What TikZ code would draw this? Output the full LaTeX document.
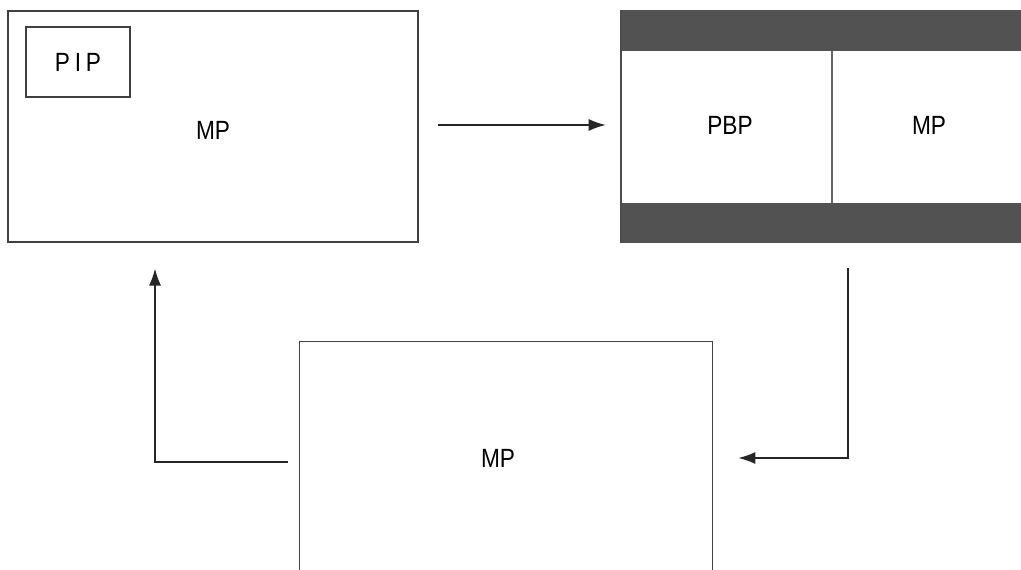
\documentclass[tikz,border=0pt]{standalone}
\usepackage{fontspec}
\setmainfont[FakeStretch=0.86]{Liberation Sans}
\usetikzlibrary{calc,arrows.meta,positioning}

\begin{document}
\begin{tikzpicture}[
    x=0.02cm, y=-0.02cm,
    font=\fontsize{15}{17}\selectfont,
    >={Latex[length=0.34cm,width=0.24cm]},
    scr/.style={draw=black!75, line width=0.6pt, inner sep=0pt},
    bar/.style={fill=black!68, draw=none},
    link/.style={->, line width=0.8pt, black!85}
  ]
  \useasboundingbox (0,0) rectangle (1021,570);

  % Main picture with PIP window (top left)
  \node[scr, minimum width=410*0.02cm, minimum height=231*0.02cm] (pipscr) at (213,126.5) {};
  \node (pipmp) at (213,130) {MP};
  \node[scr, minimum width=104*0.02cm, minimum height=70*0.02cm] (pip) at (78,62)
    {\addfontfeature{LetterSpace=18}PIP};

  % PBP screen with letterbox bars (top right)
  \node[minimum width=400*0.02cm, minimum height=233*0.02cm, inner sep=0pt] (pbpscr) at (821,126.5) {};
  \fill[bar] (pbpscr.north west) rectangle ($(pbpscr.north east)+(0,41)$);
  \fill[bar] ($(pbpscr.south west)+(0,-40)$) rectangle (pbpscr.south east);
  \draw[black!70, line width=1.2pt] (pbpscr.north west) -- (pbpscr.south west);
  \draw[black!60, line width=0.6pt] ($(pbpscr.north)+(11,41)$) -- ($(pbpscr.south)+(11,-40)$);
  \node (pbp) at (730,125) {PBP};
  \node (pbpmp) at (929,125) {MP};

  % Full screen main picture (bottom, cut off)
  \node[minimum width=412*0.02cm, minimum height=228*0.02cm, inner sep=0pt] (full) at (506,456) {};
  \node (fullmp) at (498,458) {MP};
  \draw[black!75, line width=0.6pt] (full.south west) |- (full.north east) -- (full.south east);

  % Switching order
  \draw[link, shorten <=19*0.02cm, shorten >=15*0.02cm] (pipscr.east |- pbp) -- (pbpscr.west |- pbp);
  \coordinate (sw2) at ($(pbpscr.south)+(27,25)$);
  \draw[link] (sw2) |- ($(full.east)+(26,2)$);
  \coordinate (sw3) at ($(full.west)+(-12,6)$);
  \draw[link] (sw3) -| ($(pipscr.south)+(-58,26)$);

\end{tikzpicture}
\end{document}
